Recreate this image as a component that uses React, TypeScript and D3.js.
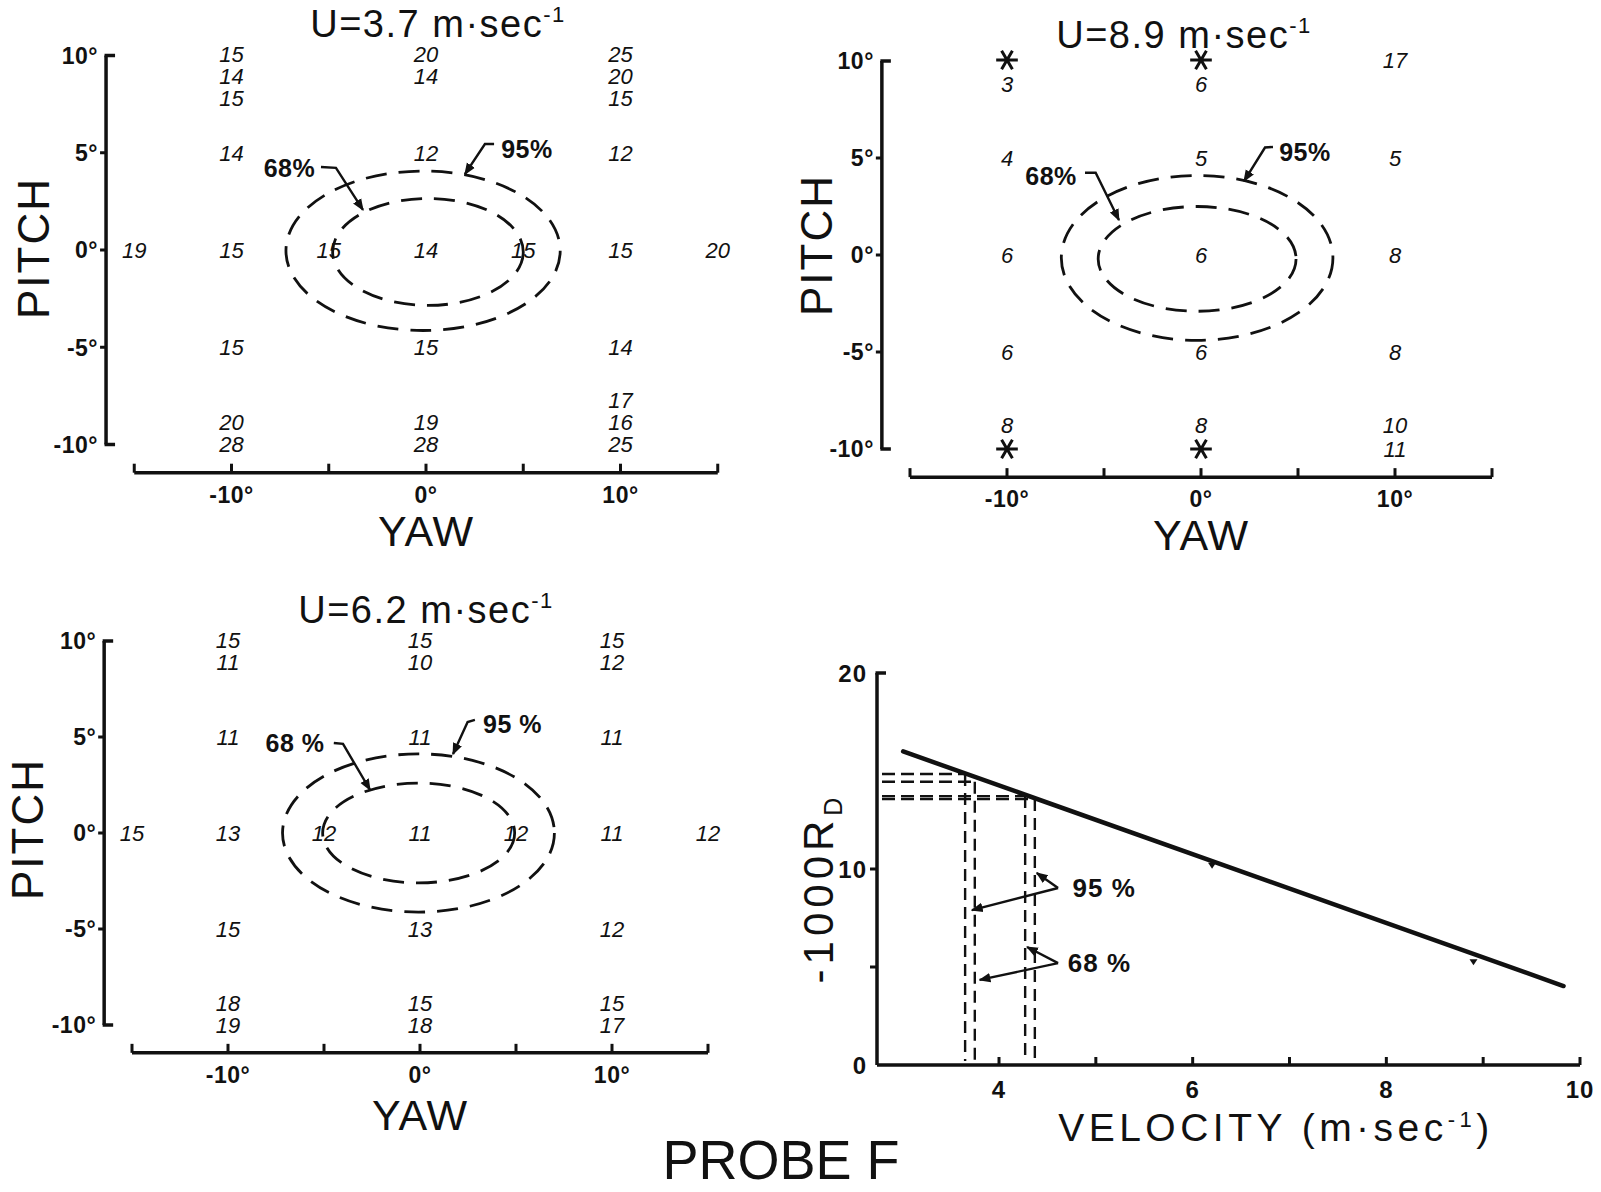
import React from "react";
import * as d3 from "d3";

const W = 1601;
const H = 1192;

// ---------- angular-response panels ----------
const yawTicks = [-15, -10, -5, 0, 5, 10, 15];
const yawLabelTicks = [-10, 0, 10];
const pitchTicks = [10, 5, 0, -5, -10];
const pitchMinorTicks = [5, 0, -5];

type Reading = { yaw: number; pitch: number; vals: string[] };

const readingsU37: Reading[] = [
  { yaw: -10, pitch: 10, vals: ["15", "14", "15"] },
  { yaw: 0, pitch: 10, vals: ["20", "14"] },
  { yaw: 10, pitch: 10, vals: ["25", "20", "15"] },
  { yaw: -10, pitch: 5, vals: ["14"] },
  { yaw: 0, pitch: 5, vals: ["12"] },
  { yaw: 10, pitch: 5, vals: ["12"] },
  { yaw: -15, pitch: 0, vals: ["19"] },
  { yaw: -10, pitch: 0, vals: ["15"] },
  { yaw: -5, pitch: 0, vals: ["15"] },
  { yaw: 0, pitch: 0, vals: ["14"] },
  { yaw: 5, pitch: 0, vals: ["15"] },
  { yaw: 10, pitch: 0, vals: ["15"] },
  { yaw: 15, pitch: 0, vals: ["20"] },
  { yaw: -10, pitch: -5, vals: ["15"] },
  { yaw: 0, pitch: -5, vals: ["15"] },
  { yaw: 10, pitch: -5, vals: ["14"] },
  { yaw: -10, pitch: -10, vals: ["20", "28"] },
  { yaw: 0, pitch: -10, vals: ["19", "28"] },
  { yaw: 10, pitch: -10, vals: ["17", "16", "25"] },
];

const readingsU89: Reading[] = [
  { yaw: -10, pitch: 10, vals: ["*", "3"] },
  { yaw: 0, pitch: 10, vals: ["*", "6"] },
  { yaw: 10, pitch: 10, vals: ["17"] },
  { yaw: -10, pitch: 5, vals: ["4"] },
  { yaw: 0, pitch: 5, vals: ["5"] },
  { yaw: 10, pitch: 5, vals: ["5"] },
  { yaw: -10, pitch: 0, vals: ["6"] },
  { yaw: 0, pitch: 0, vals: ["6"] },
  { yaw: 10, pitch: 0, vals: ["8"] },
  { yaw: -10, pitch: -5, vals: ["6"] },
  { yaw: 0, pitch: -5, vals: ["6"] },
  { yaw: 10, pitch: -5, vals: ["8"] },
  { yaw: -10, pitch: -10, vals: ["8", "*"] },
  { yaw: 0, pitch: -10, vals: ["8", "*"] },
  { yaw: 10, pitch: -10, vals: ["10", "11"] },
];

const readingsU62: Reading[] = [
  { yaw: -10, pitch: 10, vals: ["15", "11"] },
  { yaw: 0, pitch: 10, vals: ["15", "10"] },
  { yaw: 10, pitch: 10, vals: ["15", "12"] },
  { yaw: -10, pitch: 5, vals: ["11"] },
  { yaw: 0, pitch: 5, vals: ["11"] },
  { yaw: 10, pitch: 5, vals: ["11"] },
  { yaw: -15, pitch: 0, vals: ["15"] },
  { yaw: -10, pitch: 0, vals: ["13"] },
  { yaw: -5, pitch: 0, vals: ["12"] },
  { yaw: 0, pitch: 0, vals: ["11"] },
  { yaw: 5, pitch: 0, vals: ["12"] },
  { yaw: 10, pitch: 0, vals: ["11"] },
  { yaw: 15, pitch: 0, vals: ["12"] },
  { yaw: -10, pitch: -5, vals: ["15"] },
  { yaw: 0, pitch: -5, vals: ["13"] },
  { yaw: 10, pitch: -5, vals: ["12"] },
  { yaw: -10, pitch: -10, vals: ["18", "19"] },
  { yaw: 0, pitch: -10, vals: ["15", "18"] },
  { yaw: 10, pitch: -10, vals: ["15", "17"] },
];

type Contour = { level: string; cx: number; cy: number; rx: number; ry: number };

const contoursU37: Contour[] = [
  { level: "95%", cx: -0.15, cy: -0.04, rx: 7.05, ry: 4.1 },
  { level: "68%", cx: 0.1, cy: -0.1, rx: 4.9, ry: 2.75 },
];
const contoursU89: Contour[] = [
  { level: "95%", cx: -0.2, cy: -0.15, rx: 7.0, ry: 4.25 },
  { level: "68%", cx: -0.2, cy: -0.2, rx: 5.1, ry: 2.7 },
];
const contoursU62: Contour[] = [
  { level: "95%", cx: -0.08, cy: 0.0, rx: 7.08, ry: 4.12 },
  { level: "68%", cx: -0.07, cy: 0.0, rx: 5.0, ry: 2.6 },
];

type Callout = { label: string; tx: number; ty: number; path: [number, number][] };

const calloutsU37: Callout[] = [
  { label: "68%", tx: -7.02, ty: 4.22, path: [[-5.4, 4.27], [-4.63, 4.22], [-3.24, 2.06]] },
  { label: "95%", tx: 5.19, ty: 5.19, path: [[3.5, 5.45], [3.03, 5.45], [2.0, 3.9]] },
];
const calloutsU89: Callout[] = [
  { label: "68%", tx: -7.73, ty: 4.09, path: [[-5.98, 4.24], [-5.43, 4.24], [-4.23, 1.8]] },
  { label: "95%", tx: 5.36, ty: 5.31, path: [[3.71, 5.57], [3.3, 5.54], [2.22, 3.81]] },
];
const calloutsU62: Callout[] = [
  { label: "68 %", tx: -6.51, ty: 4.69, path: [[-4.49, 4.69], [-4.01, 4.64], [-2.6, 2.24]] },
  { label: "95 %", tx: 4.82, ty: 5.7, path: [[2.86, 5.89], [2.48, 5.78], [1.72, 4.11]] },
];

const speedLabels = ["3.7", "8.9", "6.2"];

// ---------- calibration panel ----------
const fitVelocity = [3.01, 9.83];
const fitRd = [16.0, 4.03];
const obsVelocity = [6.2, 8.9];
const obsRd = [10.37, 5.45];
const velTicks = [4, 5, 6, 7, 8, 9, 10];
const velLabelTicks = [4, 6, 8, 10];
const rdTicks = [5, 10];
const rdLabelTicks = [0, 10, 20];

const bandLevels = ["95%", "68%"];
const bandRHigh = [14.85, 14.45];
const bandVLow = [3.65, 3.75];
const bandRLow = [13.57, 13.72];
const bandVHigh = [4.37, 4.27];

const noteLabels = ["95 %", "68 %"];
const noteV = [4.76, 4.71];
const noteR = [9.03, 5.2];
const noteFromV = [4.61, 4.61];
const noteTipsV = [[3.72, 4.39], [3.8, 4.29]];
const noteTipsR = [[7.9, 9.8], [4.34, 6.02]];

const FONT = "'Liberation Sans', Arial, sans-serif";
const INK = "#111";

function Asterisk({ x, y }: { x: number; y: number }) {
  const d = d3.symbol(d3.symbolAsterisk, 330)() as string;
  return (
    <path d={d} transform={`translate(${x},${y}) rotate(90)`} fill="none" stroke={INK} strokeWidth={3} />
  );
}

type PanelProps = {
  x0: number;
  y0: number;
  s: number;
  speed: string;
  readings: Reading[];
  contours: Contour[];
  callouts: Callout[];
  titleDx: number;
  titleDy: number;
  pitchLabelDx: number;
  pitchLabelDy: number;
  yawLabelDy: number;
  stackGap: number;
  id: string;
};

function Panel(p: PanelProps) {
  const x = d3.scaleLinear().domain([-15, 15]).range([p.x0 - 15 * p.s, p.x0 + 15 * p.s]);
  const y = d3.scaleLinear().domain([-10, 10]).range([p.y0 + 10 * p.s, p.y0 - 10 * p.s]);
  const axisX = x(-16.45);
  const axisY = y(-11.45);
  const line = d3
    .line<[number, number]>()
    .x((d) => x(d[0]))
    .y((d) => y(d[1]));

  return (
    <g>
      {/* title */}
      <text
        x={p.x0 + p.titleDx}
        y={y(10) - 20 + p.titleDy}
        textAnchor="middle"
        fontFamily={FONT}
        fontSize={38}
        letterSpacing={1.5}
        fill={INK}
      >
        <tspan>{`U=${p.speed} m·sec`}</tspan>
        <tspan dy={-15} fontSize={22}>-1</tspan>
      </text>

      {/* pitch axis */}
      <line x1={axisX} x2={axisX} y1={y(10)} y2={y(-10)} stroke={INK} strokeWidth={3.5} />
      <line x1={axisX - 1.5} x2={axisX + 9} y1={y(10)} y2={y(10)} stroke={INK} strokeWidth={3.5} />
      <line x1={axisX - 1.5} x2={axisX + 9} y1={y(-10)} y2={y(-10)} stroke={INK} strokeWidth={3.5} />
      {pitchMinorTicks.map((t) => (
        <line key={t} x1={axisX - 6} x2={axisX} y1={y(t)} y2={y(t)} stroke={INK} strokeWidth={3} />
      ))}
      {pitchTicks.map((t) => (
        <text
          key={t}
          x={axisX - 8}
          y={y(t)}
          dy="0.36em"
          textAnchor="end"
          fontFamily={FONT}
          fontWeight="bold"
          fontSize={23}
          letterSpacing={0.5}
          fill={INK}
        >
          {`${t}°`}
        </text>
      ))}
      <text
        transform={`translate(${axisX - p.pitchLabelDx},${p.y0 + p.pitchLabelDy}) rotate(-90)`}
        textAnchor="middle"
        fontFamily={FONT}
        fontSize={44}
        letterSpacing={2}
        fill={INK}
      >
        PITCH
      </text>

      {/* yaw axis */}
      <line x1={x(-15)} x2={x(15)} y1={axisY} y2={axisY} stroke={INK} strokeWidth={3.5} />
      {yawTicks.map((t) => (
        <line key={t} x1={x(t)} x2={x(t)} y1={axisY} y2={axisY - 9} stroke={INK} strokeWidth={3} />
      ))}
      {yawLabelTicks.map((t) => (
        <text
          key={t}
          x={x(t)}
          y={axisY + 30}
          textAnchor="middle"
          fontFamily={FONT}
          fontWeight="bold"
          fontSize={23}
          letterSpacing={0.5}
          fill={INK}
        >
          {`${t}°`}
        </text>
      ))}
      <text
        x={p.x0}
        y={axisY + p.yawLabelDy}
        textAnchor="middle"
        fontFamily={FONT}
        fontSize={43}
        letterSpacing={1}
        fill={INK}
      >
        YAW
      </text>

      {/* readings */}
      {p.readings.map((r, i) =>
        r.vals.map((v, j) => {
          const n = r.vals.length;
          let cy = y(r.pitch);
          if (r.pitch === 10) cy = y(10) - 1 + j * p.stackGap;
          else if (r.pitch === -10) cy = y(-10) - (n - 1 - j) * p.stackGap;
          const cx = x(r.yaw);
          if (v === "*") return <Asterisk key={`${i}-${j}`} x={cx} y={cy} />;
          return (
            <text
              key={`${i}-${j}`}
              x={cx}
              y={cy}
              dy="0.36em"
              textAnchor="middle"
              fontFamily={FONT}
              fontStyle="italic"
              fontSize={22}
              fill={INK}
            >
              {v}
            </text>
          );
        })
      )}

      {/* confidence contours */}
      {p.contours.map((c) => (
        <ellipse
          key={c.level}
          cx={x(c.cx)}
          cy={y(c.cy)}
          rx={x(c.cx + c.rx) - x(c.cx)}
          ry={y(c.cy) - y(c.cy + c.ry)}
          fill="none"
          stroke={INK}
          strokeWidth={2.8}
          strokeDasharray="21 12"
        />
      ))}

      {/* callouts */}
      {p.callouts.map((c) => (
        <g key={c.label}>
          <text
            x={x(c.tx)}
            y={y(c.ty)}
            dy="0.36em"
            textAnchor="middle"
            fontFamily={FONT}
            fontWeight="bold"
            fontSize={25}
            letterSpacing={0.5}
            fill={INK}
          >
            {c.label}
          </text>
          <path
            d={line(c.path) as string}
            fill="none"
            stroke={INK}
            strokeWidth={2.4}
            markerEnd={`url(#arrow-${p.id})`}
          />
        </g>
      ))}
      <defs>
        <marker
          id={`arrow-${p.id}`}
          viewBox="0 0 10 10"
          refX={9}
          refY={5}
          markerWidth={5}
          markerHeight={5}
          orient="auto"
        >
          <path d="M0,1 L10,5 L0,9 Z" fill={INK} />
        </marker>
      </defs>
    </g>
  );
}

function Calibration() {
  const x = d3.scaleLinear().domain([2.74, 10]).range([877, 1580]);
  const y = d3.scaleLinear().domain([0, 20]).range([1065, 673]);
  const fit = d3
    .line<number>()
    .x((_, i) => x(fitVelocity[i]))
    .y((_, i) => y(fitRd[i]));
  const x0 = x(2.74);
  const y0 = y(0);
  return (
    <g>
      {/* axes */}
      <line x1={x0} x2={x0} y1={y(20)} y2={y0} stroke={INK} strokeWidth={3.5} />
      <line x1={x0 - 1.5} x2={x0 + 9} y1={y(20)} y2={y(20)} stroke={INK} strokeWidth={3.5} />
      {rdTicks.map((t) => (
        <line key={t} x1={x0 - 7} x2={x0} y1={y(t)} y2={y(t)} stroke={INK} strokeWidth={3} />
      ))}
      {rdLabelTicks.map((t) => (
        <text
          key={t}
          x={x0 - 10}
          y={y(t)}
          dy="0.36em"
          textAnchor="end"
          fontFamily={FONT}
          fontWeight="bold"
          fontSize={24}
          letterSpacing={1}
          fill={INK}
        >
          {t}
        </text>
      ))}
      <line x1={x0} x2={x(10)} y1={y0} y2={y0} stroke={INK} strokeWidth={3.5} />
      {velTicks.map((t) => (
        <line key={t} x1={x(t)} x2={x(t)} y1={y0} y2={y0 - 8} stroke={INK} strokeWidth={3} />
      ))}
      {velLabelTicks.map((t) => (
        <text
          key={t}
          x={x(t)}
          y={y0 + 33}
          textAnchor="middle"
          fontFamily={FONT}
          fontWeight="bold"
          fontSize={24}
          letterSpacing={1}
          fill={INK}
        >
          {t}
        </text>
      ))}
      <text
        transform={`translate(833,888) rotate(-90)`}
        textAnchor="middle"
        fontFamily={FONT}
        fontSize={42}
        letterSpacing={5}
        fill={INK}
      >
        <tspan>-1000R</tspan>
        <tspan dy={9} fontSize={25}>D</tspan>
      </text>
      <text
        x={1276}
        y={1141}
        textAnchor="middle"
        fontFamily={FONT}
        fontSize={39}
        letterSpacing={4.5}
        fill={INK}
      >
        <tspan>VELOCITY (m·sec</tspan>
        <tspan dy={-14} fontSize={22}>-1</tspan>
        <tspan dy={14}>)</tspan>
      </text>

      {/* confidence band construction */}
      {bandLevels.map((lv, i) => (
        <g key={lv}>
          <line x1={x0 + 5} x2={x(bandVLow[i])} y1={y(bandRHigh[i])} y2={y(bandRHigh[i])}
            stroke={INK} strokeWidth={2.4} strokeDasharray="13 6" />
          <line x1={x(bandVLow[i])} x2={x(bandVLow[i])} y1={y(bandRHigh[i])} y2={y0 - 4}
            stroke={INK} strokeWidth={2.4} strokeDasharray="12 7" />
          <line x1={x0 + 5} x2={x(bandVHigh[i])} y1={y(bandRLow[i])} y2={y(bandRLow[i])}
            stroke={INK} strokeWidth={2.4} strokeDasharray="13 6" />
          <line x1={x(bandVHigh[i])} x2={x(bandVHigh[i])} y1={y(bandRLow[i])} y2={y0 - 4}
            stroke={INK} strokeWidth={2.4} strokeDasharray="12 7" />
        </g>
      ))}

      {/* fitted line */}
      <path d={fit(fitVelocity) as string} fill="none" stroke={INK} strokeWidth={4.5} strokeLinecap="round" />
      {obsVelocity.map((v, i) => (
        <path
          key={v}
          d="M-4,0 L4,0 L0,6 Z"
          transform={`translate(${x(v)},${y(obsRd[i]) + 1})`}
          fill={INK}
        />
      ))}

      {/* annotations */}
      {noteLabels.map((lab, i) => (
        <g key={lab}>
          <text
            x={x(noteV[i])}
            y={y(noteR[i])}
            dy="0.36em"
            fontFamily={FONT}
            fontWeight="bold"
            fontSize={26}
            letterSpacing={1}
            fill={INK}
          >
            {lab}
          </text>
          {noteTipsV[i].map((tv, k) => (
            <line
              key={k}
              x1={x(noteFromV[i])}
              y1={y(noteR[i])}
              x2={x(tv)}
              y2={y(noteTipsR[i][k])}
              stroke={INK}
              strokeWidth={2.4}
              markerEnd="url(#arrow-cal)"
            />
          ))}
        </g>
      ))}
      <defs>
        <marker id="arrow-cal" viewBox="0 0 10 10" refX={9} refY={5} markerWidth={5} markerHeight={5} orient="auto">
          <path d="M0,1 L10,5 L0,9 Z" fill={INK} />
        </marker>
      </defs>
    </g>
  );
}

export default function App() {
  return (
    <svg
      width={W}
      height={H}
      viewBox={`0 0 ${W} ${H}`}
      style={{ position: "absolute", left: 0, top: 0, background: "#fff" }}
    >
      <rect width={W} height={H} fill="#fff" />
      <Panel
        id="p1"
        x0={426}
        y0={250}
        s={19.45}
        speed={speedLabels[0]}
        readings={readingsU37}
        contours={contoursU37}
        callouts={calloutsU37}
        titleDx={12}
        titleDy={1}
        pitchLabelDx={57}
        pitchLabelDy={-2}
        yawLabelDy={73}
        stackGap={22}
      />
      <Panel
        id="p2"
        x0={1201}
        y0={255}
        s={19.4}
        speed={speedLabels[1]}
        readings={readingsU89}
        contours={contoursU89}
        callouts={calloutsU89}
        titleDx={-17}
        titleDy={7}
        pitchLabelDx={50}
        pitchLabelDy={-10}
        yawLabelDy={73}
        stackGap={24}
      />
      <Panel
        id="p3"
        x0={420}
        y0={833}
        s={19.2}
        speed={speedLabels[2]}
        readings={readingsU62}
        contours={contoursU62}
        callouts={calloutsU62}
        titleDx={6}
        titleDy={2}
        pitchLabelDx={61}
        pitchLabelDy={-4}
        yawLabelDy={77}
        stackGap={22}
      />
      <Calibration />
      <text
        x={781}
        y={1179}
        textAnchor="middle"
        fontFamily={FONT}
        fontSize={56}
        textLength={237}
        lengthAdjust="spacingAndGlyphs"
        fill={INK}
      >
        PROBE F
      </text>
    </svg>
  );
}
